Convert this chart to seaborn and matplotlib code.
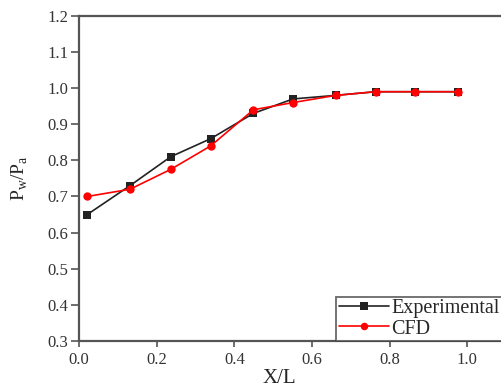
import matplotlib
matplotlib.use("Agg")
import matplotlib.pyplot as plt
import seaborn as sns
import pandas as pd

x_ratio = [0.021, 0.131, 0.236, 0.339, 0.449, 0.551, 0.662, 0.764, 0.865, 0.975]
experimental = [0.65, 0.73, 0.81, 0.86, 0.93, 0.97, 0.98, 0.99, 0.99, 0.99]
cfd = [0.70, 0.72, 0.775, 0.84, 0.94, 0.96, 0.98, 0.99, 0.99, 0.99]
x_ticks = [0.0, 0.2, 0.4, 0.6, 0.8, 1.0]
y_ticks = [0.3, 0.4, 0.5, 0.6, 0.7, 0.8, 0.9, 1.0, 1.1, 1.2]

df = pd.DataFrame({
    "x": x_ratio * 2,
    "y": experimental + cfd,
    "series": ["Experimental"] * len(x_ratio) + ["CFD"] * len(x_ratio),
})

sns.set_style("white")
plt.rcParams["font.family"] = ["Liberation Serif", "DejaVu Serif"]
plt.rcParams["mathtext.fontset"] = "custom"
plt.rcParams["mathtext.rm"] = "Liberation Serif"

fig = plt.figure(figsize=(5.01, 3.87), dpi=100)
ax = fig.add_axes([0.158, 0.119, 0.852, 0.840])

sns.lineplot(data=df, x="x", y="y", hue="series", style="series",
             palette={"Experimental": "#222222", "CFD": "red"},
             markers={"Experimental": "s", "CFD": "o"}, dashes=False,
             markersize=6, markeredgewidth=0, linewidth=1.2, ax=ax)

ax.set_xlim(0, 1.1)
ax.set_ylim(0.3, 1.2)
ax.set_xticks(x_ticks)
ax.set_yticks(y_ticks)
ax.set_xticklabels([f"{v:.1f}" for v in x_ticks])
ax.set_yticklabels([f"{v:.1f}" for v in y_ticks])
for s in ax.spines.values():
    s.set_color("#555555")
    s.set_linewidth(1.6)
ax.spines["right"].set_visible(False)
ax.tick_params(axis="y", direction="out", length=6, width=1.2, color="#555555",
               labelsize=12, labelcolor="#333333", left=True, pad=2)
ax.tick_params(axis="x", direction="out", length=4, width=1.2, color="#555555",
               labelsize=12, labelcolor="#333333", bottom=True, pad=4)
ax.set_xlabel("X/L", fontsize=15, labelpad=2)
ax.xaxis.set_label_coords(0.468, -0.085)
ax.set_ylabel(r"P$_\mathrm{w}$/P$_\mathrm{a}$", fontsize=14, labelpad=12)

leg = ax.legend(loc="lower right", bbox_to_anchor=(0.99, 0.0), fontsize=14.5,
                frameon=True, fancybox=False, edgecolor="#444444",
                handlelength=2.5, handletextpad=0.1, borderpad=0.12,
                labelspacing=0.05, borderaxespad=0, markerscale=0.9)
leg.get_frame().set_linewidth(1.3)
leg.set_title(None)

fig.savefig("out.png", dpi=100)
